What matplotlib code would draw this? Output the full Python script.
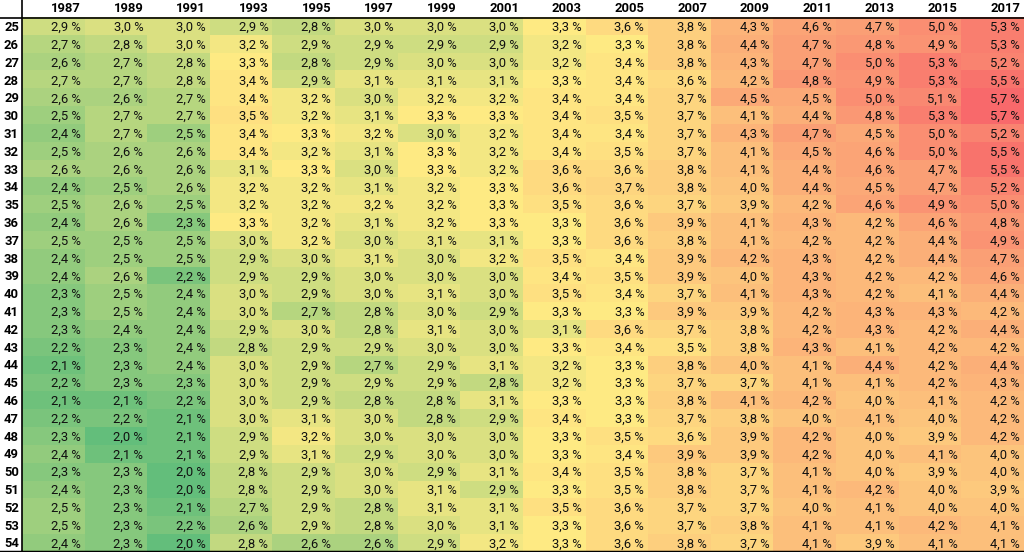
import numpy as np
import matplotlib.pyplot as plt
from matplotlib.colors import LinearSegmentedColormap, TwoSlopeNorm

ages = list(range(25, 55))
years = [1987, 1989, 1991, 1993, 1995, 1997, 1999, 2001,
         2003, 2005, 2007, 2009, 2011, 2013, 2015, 2017]

# one list per year, ages 25..54
v1987 = [2.9, 2.7, 2.6, 2.7, 2.6, 2.5, 2.4, 2.5, 2.6, 2.4, 2.5, 2.4, 2.5, 2.4, 2.4,
         2.3, 2.3, 2.3, 2.2, 2.1, 2.2, 2.1, 2.2, 2.3, 2.4, 2.3, 2.4, 2.5, 2.5, 2.4]
v1989 = [3.0, 2.8, 2.7, 2.7, 2.6, 2.7, 2.7, 2.6, 2.6, 2.5, 2.6, 2.6, 2.5, 2.5, 2.6,
         2.5, 2.5, 2.4, 2.3, 2.3, 2.3, 2.1, 2.2, 2.0, 2.1, 2.3, 2.3, 2.3, 2.3, 2.3]
v1991 = [3.0, 3.0, 2.8, 2.8, 2.7, 2.7, 2.5, 2.6, 2.6, 2.6, 2.5, 2.3, 2.5, 2.5, 2.2,
         2.4, 2.4, 2.4, 2.4, 2.4, 2.3, 2.2, 2.1, 2.1, 2.1, 2.0, 2.0, 2.1, 2.2, 2.0]
v1993 = [2.9, 3.2, 3.3, 3.4, 3.4, 3.5, 3.4, 3.4, 3.1, 3.2, 3.2, 3.3, 3.0, 2.9, 2.9,
         3.0, 3.0, 2.9, 2.8, 3.0, 3.0, 3.0, 3.0, 2.9, 2.9, 2.8, 2.8, 2.7, 2.6, 2.8]
v1995 = [2.8, 2.9, 2.8, 2.9, 3.2, 3.2, 3.3, 3.2, 3.3, 3.2, 3.2, 3.2, 3.2, 3.0, 2.9,
         2.9, 2.7, 3.0, 2.9, 2.9, 2.9, 2.9, 3.1, 3.2, 3.1, 2.9, 2.9, 2.9, 2.9, 2.6]
v1997 = [3.0, 2.9, 2.9, 3.1, 3.0, 3.1, 3.2, 3.1, 3.0, 3.1, 3.2, 3.1, 3.0, 3.1, 3.0,
         3.0, 2.8, 2.8, 2.9, 2.7, 2.9, 2.8, 3.0, 3.0, 2.9, 3.0, 3.0, 2.8, 2.8, 2.6]
v1999 = [3.0, 2.9, 3.0, 3.1, 3.2, 3.3, 3.0, 3.3, 3.3, 3.2, 3.2, 3.2, 3.1, 3.0, 3.0,
         3.1, 3.0, 3.1, 3.0, 2.9, 2.9, 2.8, 2.8, 3.0, 3.0, 2.9, 3.1, 3.1, 3.0, 2.9]
v2001 = [3.0, 2.9, 3.0, 3.1, 3.2, 3.3, 3.2, 3.2, 3.2, 3.3, 3.3, 3.3, 3.1, 3.2, 3.0,
         3.0, 2.9, 3.0, 3.0, 3.1, 2.8, 3.1, 2.9, 3.0, 3.0, 3.1, 2.9, 3.1, 3.1, 3.2]
v2003 = [3.3, 3.2, 3.2, 3.3, 3.4, 3.4, 3.4, 3.4, 3.6, 3.6, 3.5, 3.3, 3.3, 3.5, 3.4,
         3.5, 3.3, 3.1, 3.3, 3.2, 3.2, 3.3, 3.4, 3.3, 3.3, 3.4, 3.3, 3.5, 3.3, 3.3]
v2005 = [3.6, 3.3, 3.4, 3.4, 3.4, 3.5, 3.4, 3.5, 3.6, 3.7, 3.6, 3.6, 3.6, 3.4, 3.5,
         3.4, 3.3, 3.6, 3.4, 3.3, 3.3, 3.3, 3.3, 3.5, 3.4, 3.5, 3.5, 3.6, 3.6, 3.6]
v2007 = [3.8, 3.8, 3.8, 3.6, 3.7, 3.7, 3.7, 3.7, 3.8, 3.8, 3.7, 3.9, 3.8, 3.9, 3.9,
         3.7, 3.9, 3.7, 3.5, 3.8, 3.7, 3.8, 3.7, 3.6, 3.9, 3.8, 3.8, 3.7, 3.7, 3.8]
v2009 = [4.3, 4.4, 4.3, 4.2, 4.5, 4.1, 4.3, 4.1, 4.1, 4.0, 3.9, 4.1, 4.1, 4.2, 4.0,
         4.1, 3.9, 3.8, 3.8, 4.0, 3.7, 4.1, 3.8, 3.9, 3.9, 3.7, 3.7, 3.7, 3.8, 3.7]
v2011 = [4.6, 4.7, 4.7, 4.8, 4.5, 4.4, 4.7, 4.5, 4.4, 4.4, 4.2, 4.3, 4.2, 4.3, 4.3,
         4.3, 4.2, 4.2, 4.3, 4.1, 4.1, 4.2, 4.0, 4.2, 4.2, 4.1, 4.1, 4.0, 4.1, 4.1]
v2013 = [4.7, 4.8, 5.0, 4.9, 5.0, 4.8, 4.5, 4.6, 4.6, 4.5, 4.6, 4.2, 4.2, 4.2, 4.2,
         4.2, 4.3, 4.3, 4.1, 4.4, 4.1, 4.0, 4.1, 4.0, 4.0, 4.0, 4.2, 4.1, 4.1, 3.9]
v2015 = [5.0, 4.9, 5.3, 5.3, 5.1, 5.3, 5.0, 5.0, 4.7, 4.7, 4.9, 4.6, 4.4, 4.4, 4.2,
         4.1, 4.3, 4.2, 4.2, 4.2, 4.2, 4.1, 4.0, 3.9, 4.1, 3.9, 4.0, 4.0, 4.2, 4.1]
v2017 = [5.3, 5.3, 5.2, 5.5, 5.7, 5.7, 5.2, 5.5, 5.5, 5.2, 5.0, 4.8, 4.9, 4.7, 4.6,
         4.4, 4.2, 4.4, 4.2, 4.4, 4.3, 4.2, 4.2, 4.2, 4.0, 4.0, 3.9, 4.0, 4.1, 4.1]

values = np.array([v1987, v1989, v1991, v1993, v1995, v1997, v1999, v2001,
                   v2003, v2005, v2007, v2009, v2011, v2013, v2015, v2017]).T

fig = plt.figure(figsize=(10.24, 5.52), dpi=100)
ax = fig.add_axes([0, 0, 1, 1])

# excel style 3 colour scale: min / 50th percentile / max
cmap = LinearSegmentedColormap.from_list('excel', ['#63BE7B', '#FFEB84', '#F8696B'])
norm = TwoSlopeNorm(vmin=values.min(), vcenter=np.percentile(values, 50), vmax=values.max())
ax.imshow(values, cmap=cmap, norm=norm, aspect='auto', interpolation='nearest')

col_px = 1002 / 16
label_w = 22 / col_px
pad = 4 / col_px
ax.set_xlim(-0.5 - label_w, 15.5)
ax.set_ylim(29.5, -1.5)
ax.axis('off')

font = 'Roboto'
fs = 9.4
for i in range(len(ages)):
    for j in range(len(years)):
        txt = f'{values[i, j]:.1f} %'.replace('.', ',')
        ax.text(j + 0.5 - pad, i + 0.05, txt, ha='right', va='center',
                fontsize=fs, family=font, color='#111111')

for j, y in enumerate(years):
    ax.text(j + 0.5 - pad, -1, str(y), ha='right', va='center',
            fontsize=fs, family=font, fontweight='bold')

for i, a in enumerate(ages):
    ax.text(-0.5 - 3 / col_px, i + 0.05, str(a), ha='right', va='center',
            fontsize=fs, family=font, fontweight='bold')

ax.axvline(-0.5, color='black', lw=1.2)
ax.axhline(-0.5, color='black', lw=1.2)
ax.axhline(29.5, color='black', lw=2.5)

fig.savefig('out.png', dpi=100)
